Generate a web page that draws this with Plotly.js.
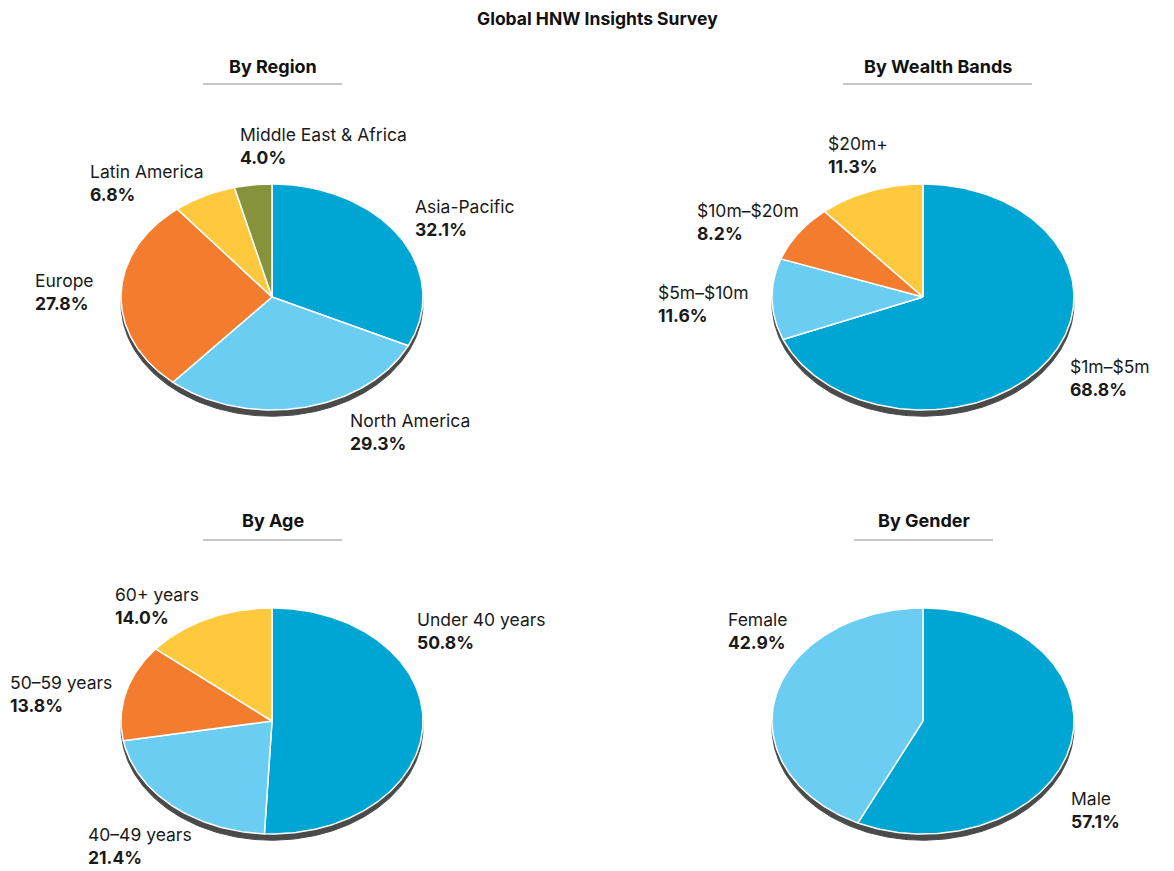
<!DOCTYPE html>
<html>
<head>
<meta charset="utf-8">
<script src="https://cdn.plot.ly/plotly-3.0.1.min.js"></script>
<style>html,body{margin:0;padding:0;background:#fff;}#chart{width:1174px;height:871px;}</style>
</head>
<body>
<div id="chart"></div>
<script>
// ---------------- DATA ----------------
const chartTitle = "Global HNW Insights Survey";

const regionTitle = "By Region";
const regionLabels = ["Asia-Pacific", "North America", "Europe", "Latin America", "Middle East & Africa"];
const regionValues = [32.1, 29.3, 27.8, 6.8, 4.0];

const wealthTitle = "By Wealth Bands";
const wealthLabels = ["$1m–$5m", "$5m–$10m", "$10m–$20m", "$20m+"];
const wealthValues = [68.8, 11.6, 8.2, 11.3];

const ageTitle = "By Age";
const ageLabels = ["Under 40 years", "40–49 years", "50–59 years", "60+ years"];
const ageValues = [50.8, 21.4, 13.8, 14.0];

const genderTitle = "By Gender";
const genderLabels = ["Male", "Female"];
const genderValues = [57.1, 42.9];

// ---------------- STYLE / LAYOUT ----------------
const W = 1174, H = 871;
const px = x => x / W;
const py = y => 1 - y / H;

const regionColors = ["#00a6d3", "#6acdf1", "#f47c2e", "#fec93c", "#87933a"];
const wealthColors = ["#00a6d3", "#6acdf1", "#f47c2e", "#fec93c"];
const ageColors    = ["#00a6d3", "#6acdf1", "#f47c2e", "#fec93c"];
const genderColors = ["#00a6d3", "#6acdf1"];

// label anchor positions (left edge, vertical middle) in page pixels
const regionLabelPos = [[415, 218], [350, 432], [35, 292], [90, 183], [240, 146]];
const wealthLabelPos = [[1070, 378], [658, 304], [697, 222], [828, 155]];
const ageLabelPos    = [[417, 631], [88, 846], [10, 694], [115, 606]];
const genderLabelPos = [[1071, 810], [728, 631]];

const panels = [
  {title: regionTitle, labels: regionLabels, values: regionValues, colors: regionColors, pos: regionLabelPos,
   cx: 272, cy: 297, rx: 151, ry: 113, ty: 67, line: [203, 342], ly: 84},
  {title: wealthTitle, labels: wealthLabels, values: wealthValues, colors: wealthColors, pos: wealthLabelPos,
   cx: 923, cy: 297, rx: 151, ry: 113, ty: 67, line: [843, 1032], ly: 84},
  {title: ageTitle, labels: ageLabels, values: ageValues, colors: ageColors, pos: ageLabelPos,
   cx: 272, cy: 721, rx: 151, ry: 113, ty: 520, line: [203, 342], ly: 540},
  {title: genderTitle, labels: genderLabels, values: genderValues, colors: genderColors, pos: genderLabelPos,
   cx: 923, cy: 721, rx: 151, ry: 113, ty: 520, line: [854, 993], ly: 540}
];

const FONT = "Inter, 'Liberation Sans', Arial, Helvetica, sans-serif";
const traces = [];
const annotations = [];
const shapes = [];
const layout = {
  width: W, height: H,
  margin: {l: 0, r: 0, t: 0, b: 0},
  paper_bgcolor: "#ffffff", plot_bgcolor: "rgba(0,0,0,0)",
  showlegend: false,
  hovermode: false,
  font: {family: FONT, color: "#1a1a1a"},
  annotations: annotations,
  shapes: shapes
};

annotations.push({
  text: "<b>" + chartTitle + "</b>", xref: "paper", yref: "paper",
  x: px(597), y: py(18), xanchor: "center", yanchor: "middle", showarrow: false,
  font: {size: 17.5, family: FONT, color: "#111"}
});

const XL = 1.05, XR = 1.05, YB = 1.15, YT = 1.05;
const shadowOff = 0.055;

panels.forEach((p, i) => {
  const k = i === 0 ? "" : String(i + 1);
  const xa = "x" + k, ya = "y" + k;
  layout["xaxis" + k] = {domain: [px(p.cx - XL * p.rx), px(p.cx + XR * p.rx)], range: [-XL, XR],
    visible: false, fixedrange: true, anchor: ya};
  layout["yaxis" + k] = {domain: [py(p.cy + YB * p.ry), py(p.cy - YT * p.ry)], range: [-YB, YT],
    visible: false, fixedrange: true, anchor: xa};

  // shadow ellipse
  const sx = [], sy = [];
  for (let a = 0; a <= 360; a += 1) {
    const t = a * Math.PI / 180;
    sx.push(Math.sin(t)); sy.push(Math.cos(t) - shadowOff);
  }
  traces.push({type: "scatter", mode: "lines", x: sx, y: sy, xaxis: xa, yaxis: ya,
    fill: "toself", fillcolor: "#4a4a4a", line: {color: "#4a4a4a", width: 1}, hoverinfo: "skip"});

  // wedges
  const total = p.values.reduce((s, v) => s + v, 0);
  let start = 0;
  p.values.forEach((v, j) => {
    const a0 = start / total * 360, a1 = (start + v) / total * 360;
    const n = Math.max(2, Math.ceil(a1 - a0));
    const wx = [0], wy = [0];
    for (let s = 0; s <= n; s++) {
      const t = (a0 + (a1 - a0) * s / n) * Math.PI / 180;
      wx.push(Math.sin(t)); wy.push(Math.cos(t));
    }
    wx.push(0); wy.push(0);
    traces.push({type: "scatter", mode: "lines", x: wx, y: wy, xaxis: xa, yaxis: ya,
      fill: "toself", fillcolor: p.colors[j], line: {color: "#ffffff", width: 1.5},
      name: p.labels[j], hoverinfo: "skip"});
    start += v;

    annotations.push({
      text: p.labels[j] + "<br><b>" + v.toFixed(1) + "%</b>",
      xref: "paper", yref: "paper", x: px(p.pos[j][0] - 2), y: py(p.pos[j][1]),
      xanchor: "left", yanchor: "middle", align: "left", showarrow: false,
      font: {size: 17.5, family: FONT, color: "#1a1a1a"}
    });
  });

  // panel title + underline
  annotations.push({
    text: "<b>" + p.title + "</b>", xref: "paper", yref: "paper",
    x: px((p.line[0] + p.line[1]) / 2), y: py(p.ty), xanchor: "center", yanchor: "middle",
    showarrow: false, font: {size: 18, family: FONT, color: "#111"}
  });
  shapes.push({type: "line", xref: "paper", yref: "paper",
    x0: px(p.line[0]), x1: px(p.line[1]), y0: py(p.ly), y1: py(p.ly),
    line: {color: "#b3b3b3", width: 1.5}});
});

Plotly.newPlot("chart", traces, layout, {displayModeBar: false, staticPlot: true});
</script>
</body>
</html>
